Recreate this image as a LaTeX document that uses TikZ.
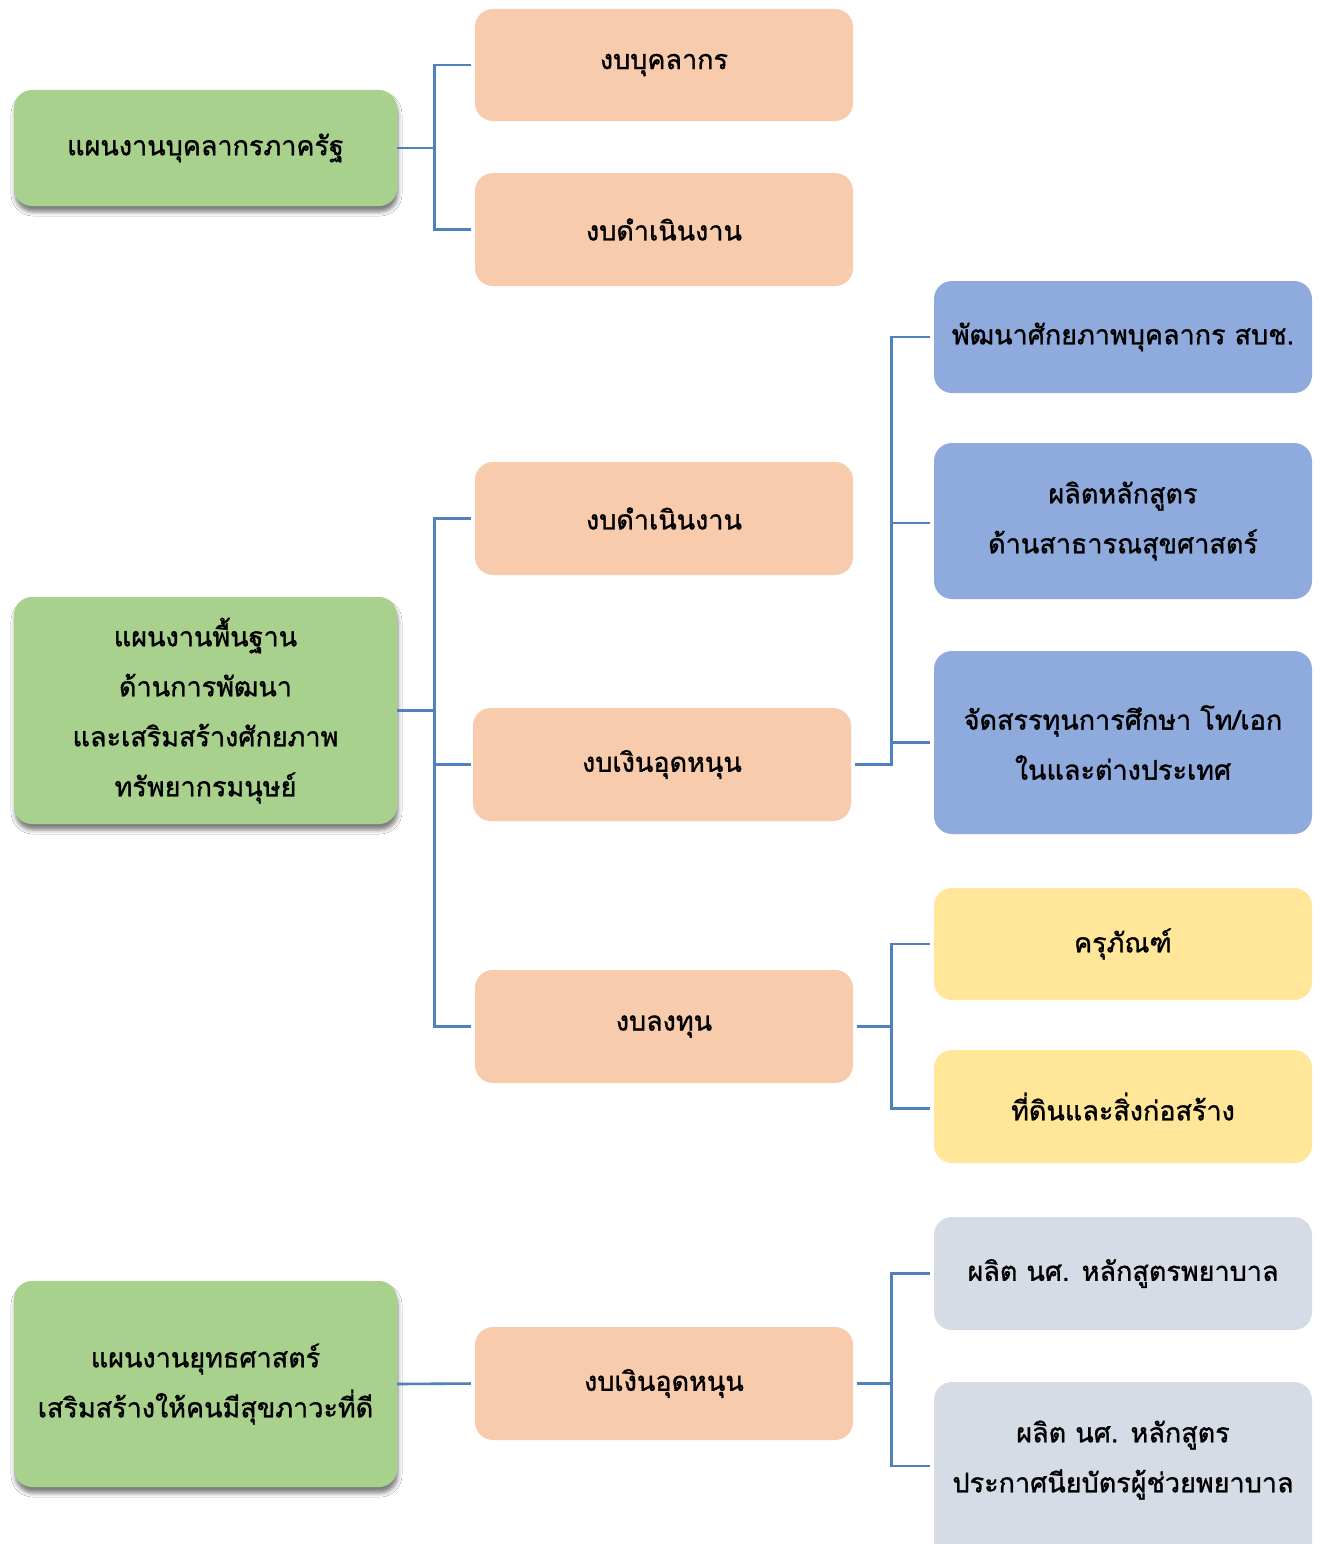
\documentclass[tikz,border=0pt]{standalone}
\usepackage{fontspec}
\newfontfamily\thai[Script=Thai,FakeBold=1.2]{Loma}
\usetikzlibrary{shadows.blur}
\definecolor{gfill}{HTML}{A9D18E}
\definecolor{ofill}{HTML}{F8CBAD}
\definecolor{bfill}{HTML}{8FAADC}
\definecolor{yfill}{HTML}{FFE699}
\definecolor{sfill}{HTML}{D6DCE5}
\definecolor{lnc}{HTML}{4F81BD}
\tikzset{
  box/.style={rounded corners=18pt, minimum width=378pt, inner sep=0pt, align=center,
    font=\thai\fontsize{27}{50}\selectfont, text=black},
  gbox/.style={box, fill=gfill, minimum width=383pt,
    blur shadow={shadow xshift=1pt, shadow yshift=-6pt, shadow blur radius=4pt, shadow opacity=50}},
  obox/.style={box, fill=ofill},
  bbox/.style={box, fill=bfill},
  ybox/.style={box, fill=yfill},
  sbox/.style={box, fill=sfill},
  conn/.style={draw=lnc, line width=2.6pt}
}
\begin{document}
\begin{tikzpicture}[x=1pt,y=-1pt]
\useasboundingbox (0,0) rectangle (1323,1544);
\fill[white] (0,0) rectangle (1323,1544);
\begin{scope}
\clip (0,0) rectangle (1323,1544);
% left column
\node[gbox, minimum height=116pt] (g1) at (205.5,148) {แผนงานบุคลากรภาครัฐ};
\node[gbox, minimum height=227pt] (g2) at (205.5,710.5) {แผนงานพื้นฐาน\\ด้านการพัฒนา\\และเสริมสร้างศักยภาพ\\ทรัพยากรมนุษย์};
\node[gbox, minimum height=206pt] (g3) at (205.5,1384) {แผนงานยุทธศาสตร์\\เสริมสร้างให้คนมีสุขภาวะที่ดี};
% middle column
\node[obox, minimum height=112pt] (o1) at (664,65) {งบบุคลากร};
\node[obox, minimum height=113pt] (o2) at (664,229.5) {งบดำเนินงาน};
\node[obox, minimum height=113pt] (o3) at (664,518.5) {งบดำเนินงาน};
\node[obox, minimum height=113pt] (o4) at (662,764.5) {งบเงินอุดหนุน};
\node[obox, minimum height=113pt] (o5) at (664,1026.5) {งบลงทุน};
\node[obox, minimum height=113pt] (o6) at (664,1383.5) {งบเงินอุดหนุน};
% right column
\node[bbox, minimum height=112pt] (b1) at (1123,337) {พัฒนาศักยภาพบุคลากร สบช.};
\node[bbox, minimum height=156pt] (b2) at (1123,521) {ผลิตหลักสูตร\\ด้านสาธารณสุขศาสตร์};
\node[bbox, minimum height=183pt] (b3) at (1123,742.5) {จัดสรรทุนการศึกษา โท/เอก\\ในและต่างประเทศ};
\node[ybox, minimum height=112pt] (y1) at (1123,944) {ครุภัณฑ์};
\node[ybox, minimum height=113pt] (y2) at (1123,1106.5) {ที่ดินและสิ่งก่อสร้าง};
\node[sbox, minimum height=113pt] (s1) at (1123,1273.5) {ผลิต นศ. หลักสูตรพยาบาล};
\node[sbox, minimum height=180pt] (s2) at (1123,1472) {};
\node[font=\thai\fontsize{27}{50}\selectfont, align=center, inner sep=0pt] (s2t) at (1123,1460) {ผลิต นศ. หลักสูตร\\ประกาศนียบัตรผู้ช่วยพยาบาล};
\end{scope}
% connectors
\draw[conn, shorten >=4pt] (g1.east) -- ++(37,0) |- (o1.west);
\draw[conn, shorten >=4pt] (g1.east) -- ++(37,0) |- (o2.west);
\draw[conn, shorten >=4pt] (g2.east) -- ++(37,0) |- (o3.west);
\draw[conn, shorten >=2pt] (g2.east) -- ++(37,0) |- (o4.west);
\draw[conn, shorten >=4pt] (g2.east) -- ++(37,0) |- (o5.west);
\draw[conn, shorten >=4pt] (g3.east) -- (o6.west);
\draw[conn, shorten <=4pt, shorten >=4pt] (o4.east) -- ++(40,0) |- (b1.west);
\draw[conn, shorten <=4pt, shorten >=4pt] (o4.east) -- ++(40,0) |- ([yshift=-2pt]b2.west);
\draw[conn, shorten <=4pt, shorten >=4pt] (o4.east) -- ++(40,0) |- (b3.west);
\draw[conn, shorten <=4pt, shorten >=4pt] (o5.east) -- ++(38,0) |- (y1.west);
\draw[conn, shorten <=4pt, shorten >=4pt] (o5.east) -- ++(38,0) |- ([yshift=-2pt]y2.west);
\draw[conn, shorten <=4pt, shorten >=4pt] (o6.east) -- ++(38,0) |- (s1.west);
\draw[conn, shorten <=4pt, shorten >=4pt] (o6.east) -- ++(38,0) |- ([yshift=6pt]s2.west);
\end{tikzpicture}
\end{document}
